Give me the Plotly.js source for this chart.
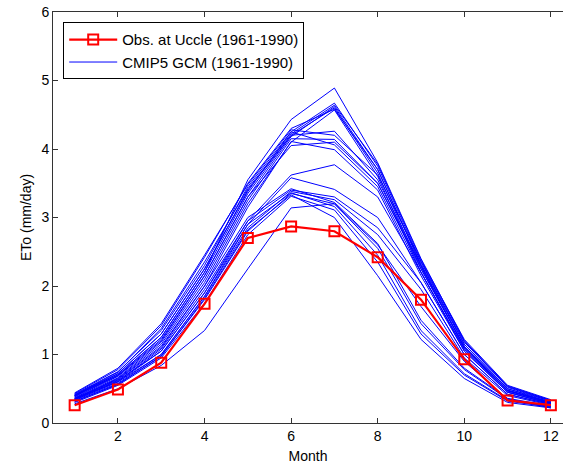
<!DOCTYPE html>
<html>
<head>
<meta charset="utf-8">
<script src="https://cdn.plot.ly/plotly-3.0.1.min.js"></script>
<style>html,body{margin:0;padding:0;background:#fff;}#chart{width:563px;height:467px;}</style>
</head>
<body>
<div id="chart"></div>
<script>
const months = [1,2,3,4,5,6,7,8,9,10,11,12];
const obsName = "Obs. at Uccle (1961-1990)";
const gcmName = "CMIP5 GCM (1961-1990)";
const obsValues = [0.26, 0.49, 0.88, 1.74, 2.70, 2.87, 2.80, 2.42, 1.80, 0.93, 0.33, 0.26];

const gcmA1 = [0.40, 0.70, 1.25, 2.20, 3.55, 4.43, 4.89, 3.80, 2.40, 1.20, 0.52, 0.32];
const gcmA2 = [0.42, 0.75, 1.35, 2.30, 3.45, 4.25, 4.67, 3.75, 2.35, 1.15, 0.50, 0.32];
const gcmA3 = [0.38, 0.68, 1.20, 2.15, 3.30, 4.18, 4.62, 3.70, 2.30, 1.10, 0.48, 0.30];
const gcmA4 = [0.40, 0.72, 1.30, 2.25, 3.40, 4.20, 4.60, 3.65, 2.25, 1.12, 0.47, 0.31];
const gcmA5 = [0.35, 0.65, 1.15, 2.05, 3.20, 4.10, 4.57, 3.60, 2.20, 1.05, 0.45, 0.28];
const gcmA6 = [0.43, 0.78, 1.42, 2.42, 3.50, 4.30, 4.58, 3.70, 2.32, 1.18, 0.53, 0.33];
const gcmA7 = [0.41, 0.74, 1.38, 2.35, 3.42, 4.22, 4.64, 3.78, 2.38, 1.22, 0.55, 0.34];
const gcmB1 = [0.40, 0.70, 1.25, 2.20, 3.35, 4.20, 4.26, 3.55, 2.30, 1.15, 0.50, 0.30];
const gcmB2 = [0.37, 0.66, 1.18, 2.10, 3.25, 4.15, 4.14, 3.50, 2.25, 1.12, 0.48, 0.29];
const gcmB3 = [0.41, 0.72, 1.30, 2.25, 3.38, 4.25, 4.06, 3.45, 2.20, 1.08, 0.47, 0.30];
const gcmB4 = [0.36, 0.64, 1.12, 2.00, 3.15, 4.11, 3.99, 3.40, 2.15, 1.05, 0.45, 0.28];
const gcmB5 = [0.39, 0.69, 1.22, 2.15, 3.30, 4.05, 4.10, 3.50, 2.28, 1.10, 0.47, 0.29];
const gcmB6 = [0.44, 0.80, 1.45, 2.45, 3.48, 4.28, 4.20, 3.62, 2.36, 1.20, 0.54, 0.33];
const gcmC1 = [0.35, 0.62, 1.05, 1.90, 2.95, 3.62, 3.77, 3.30, 2.20, 1.08, 0.45, 0.28];
const gcmC2 = [0.34, 0.60, 1.00, 1.85, 2.90, 3.58, 3.41, 3.00, 2.05, 1.00, 0.42, 0.27];
const gcmD1 = [0.33, 0.58, 1.00, 1.85, 2.85, 3.38, 3.26, 2.75, 1.95, 0.95, 0.40, 0.26];
const gcmD2 = [0.32, 0.56, 0.98, 1.80, 2.80, 3.35, 3.20, 2.55, 1.45, 0.78, 0.35, 0.24];
const gcmD3 = [0.30, 0.55, 0.95, 1.75, 2.75, 3.31, 3.11, 2.35, 1.30, 0.70, 0.32, 0.23];
const gcmD4 = [0.34, 0.60, 1.05, 1.90, 2.90, 3.36, 3.16, 2.45, 1.35, 0.72, 0.33, 0.24];
const gcmD5 = [0.31, 0.57, 0.97, 1.82, 2.82, 3.33, 3.00, 2.15, 1.22, 0.65, 0.30, 0.22];
const gcmD6 = [0.35, 0.61, 1.08, 1.95, 2.95, 3.40, 3.30, 2.85, 2.05, 1.00, 0.42, 0.27];
const gcmD7 = [0.36, 0.63, 1.10, 2.00, 3.00, 3.42, 3.22, 2.62, 1.50, 0.80, 0.36, 0.25];
const gcmE1 = [0.28, 0.50, 0.84, 1.35, 2.25, 3.14, 3.20, 2.60, 1.70, 0.90, 0.35, 0.22];

const gcmSeries = [gcmA1, gcmA2, gcmA3, gcmA4, gcmA5, gcmA6, gcmA7,
                   gcmB1, gcmB2, gcmB3, gcmB4, gcmB5, gcmB6,
                   gcmC1, gcmC2, gcmD1, gcmD2, gcmD3, gcmD4, gcmD5, gcmD6, gcmD7, gcmE1];

const xTicks = [2, 4, 6, 8, 10, 12];
const yTicks = [0, 1, 2, 3, 4, 5, 6];

const traces = gcmSeries.map((vals, i) => ({
  x: months, y: vals, type: 'scatter', mode: 'lines',
  name: gcmName, showlegend: i === 0, legendrank: 2,
  line: {color: '#0000ff', width: 1},
  hoverinfo: 'skip'
}));
traces.push({
  x: months, y: obsValues, type: 'scatter', mode: 'lines+markers',
  name: obsName, legendrank: 1,
  line: {color: '#ff0000', width: 2.2},
  marker: {symbol: 'square-open', size: 10, color: '#ff0000', line: {width: 2, color: '#ff0000'}}
});

const fontFam = 'Arial, "Liberation Sans", Helvetica, sans-serif';
const layout = {
  width: 563, height: 467,
  margin: {l: 53, r: 0, t: 12, b: 44, pad: 0},
  paper_bgcolor: '#ffffff', plot_bgcolor: '#ffffff',
  font: {family: fontFam, size: 12, color: '#000'},
  showlegend: true,
  legend: {
    x: 0.02, y: 0.975, xanchor: 'left', yanchor: 'top',
    bgcolor: '#ffffff', bordercolor: '#000', borderwidth: 1,
    font: {family: fontFam, size: 15, color: '#000'},
    itemwidth: 48,
    tracegroupgap: 0
  },
  xaxis: {
    range: [0.5, 12.28], tickvals: xTicks, ticktext: xTicks.map(String),
    ticks: 'inside', ticklen: 5, tickcolor: '#333', tickwidth: 1,
    showline: true, linecolor: '#333', linewidth: 1, mirror: 'ticks',
    showgrid: false, zeroline: false,
    tickfont: {family: fontFam, size: 14, color: '#000'},
    title: {text: 'Month', font: {family: fontFam, size: 14, color: '#000'}, standoff: 8}
  },
  yaxis: {
    range: [0, 6], tickvals: yTicks, ticktext: yTicks.map(String),
    ticks: 'inside', ticklen: 5, tickcolor: '#333', tickwidth: 1,
    showline: true, linecolor: '#333', linewidth: 1, mirror: false,
    showgrid: false, zeroline: false,
    tickfont: {family: fontFam, size: 14, color: '#000'},
    title: {text: 'ETo (mm/day)', font: {family: fontFam, size: 14, color: '#000'}, standoff: 6}
  }
};

Plotly.newPlot('chart', traces, layout, {staticPlot: true, displayModeBar: false});
</script>
</body>
</html>
